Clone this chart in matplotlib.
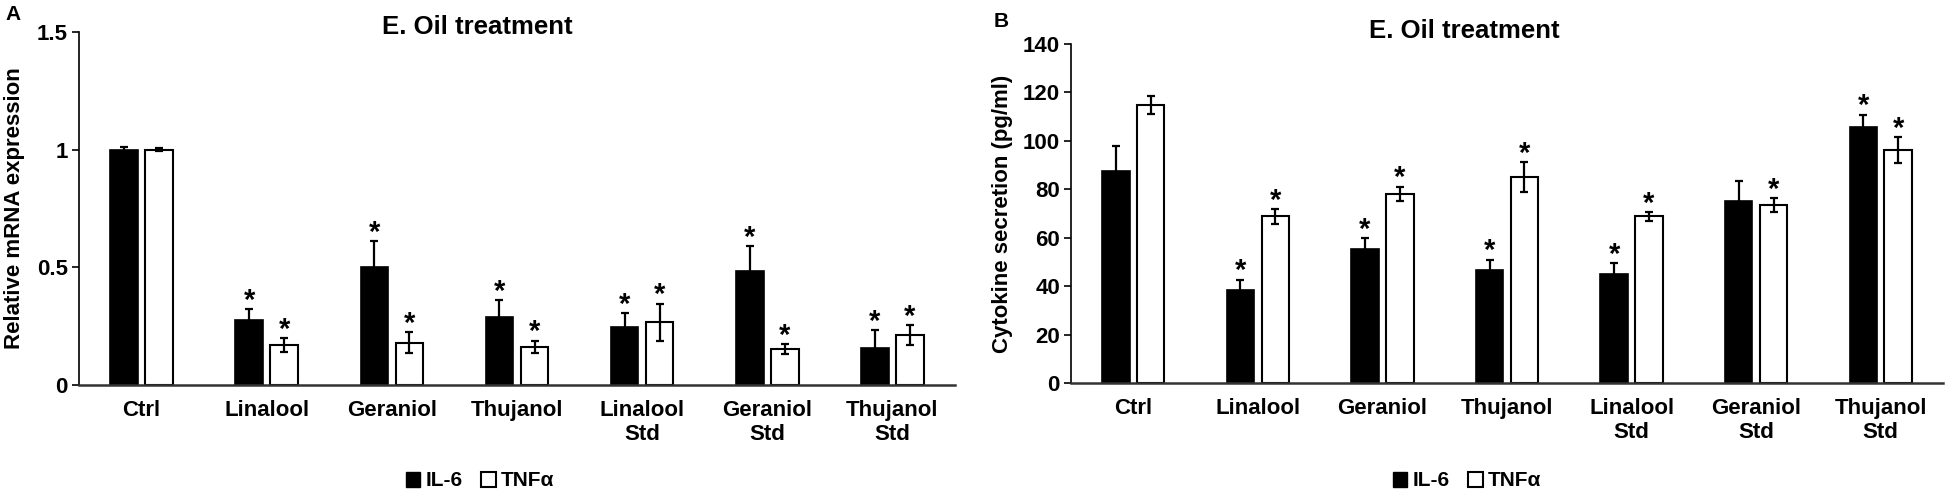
import matplotlib
matplotlib.use("Agg")
import matplotlib.pyplot as plt
from matplotlib.patches import Patch
import numpy as np

plt.rcParams['font.family'] = ['Liberation Sans', 'DejaVu Sans']
plt.rcParams['font.weight'] = 'bold'

categories = ["Ctrl", "Linalool", "Geraniol", "Thujanol", "Linalool\nStd", "Geraniol\nStd", "Thujanol\nStd"]

# Panel A: relative mRNA expression
a_il6 = [1.00, 0.278, 0.501, 0.287, 0.247, 0.483, 0.159]
a_il6_err = [0.012, 0.044, 0.110, 0.074, 0.058, 0.108, 0.074]
a_tnf = [1.00, 0.170, 0.180, 0.162, 0.266, 0.153, 0.212]
a_tnf_err = [0.006, 0.030, 0.044, 0.026, 0.080, 0.020, 0.043]
a_il6_sig = [False, True, True, True, True, True, True]
a_tnf_sig = [False, True, True, True, True, True, True]

# Panel B: cytokine secretion (pg/ml)
b_il6 = [87.7, 38.4, 55.3, 46.5, 45.1, 75.0, 105.8]
b_il6_err = [10.0, 4.3, 4.4, 4.4, 4.5, 8.3, 5.0]
b_tnf = [114.8, 68.8, 78.2, 84.9, 68.8, 73.6, 96.1]
b_tnf_err = [3.8, 3.1, 2.9, 6.2, 1.8, 2.8, 5.3]
b_il6_sig = [False, True, True, True, True, False, True]
b_tnf_sig = [False, True, True, True, True, True, True]

series_names = ["IL-6", "TNFα"]
title = "E. Oil treatment"

W, H = 1946, 492
fig = plt.figure(figsize=(W / 100, H / 100), dpi=100)

def px_axes(l, r, top, bottom):
    return fig.add_axes([l / W, 1 - bottom / H, (r - l) / W, (bottom - top) / H])

axA = px_axes(79, 955, 32, 385)
axB = px_axes(1071, 1943, 44, 383)

bw = 0.22
off = 0.14

def draw(ax, il6, il6e, tnf, tnfe, sig1, sig2, ylim, yticks, yticklabels, ylabel, star_off):
    x = np.arange(len(categories))
    ax.bar(x - off, il6, bw, color='black', edgecolor='black', linewidth=1.2, zorder=2)
    ax.bar(x + off, tnf, bw, color='white', edgecolor='black', linewidth=1.5, zorder=2)
    ax.errorbar(x - off, il6, yerr=il6e, fmt='none', ecolor='black', elinewidth=1.6,
                capsize=3.2, capthick=1.6, zorder=3)
    ax.errorbar(x + off, tnf, yerr=tnfe, fmt='none', ecolor='black', elinewidth=1.6,
                capsize=3.2, capthick=1.6, zorder=3)
    for xi, v, e, s in zip(x - off, il6, il6e, sig1):
        if s:
            ax.annotate('*', (xi, v + e), xytext=(0, star_off), textcoords='offset points',
                        ha='center', va='center', fontsize=21, fontweight='bold')
    for xi, v, e, s in zip(x + off, tnf, tnfe, sig2):
        if s:
            ax.annotate('*', (xi, v + e), xytext=(0, star_off), textcoords='offset points',
                        ha='center', va='center', fontsize=21, fontweight='bold')
    ax.set_xlim(-0.5, len(categories) - 0.5)
    ax.set_ylim(*ylim)
    ax.set_yticks(yticks)
    ax.set_yticklabels(yticklabels)
    ax.set_xticks(x)
    ax.set_xticklabels(categories, linespacing=1.15)
    ax.tick_params(axis='x', length=0, pad=11, labelsize=16)
    ax.tick_params(axis='y', length=5, width=1.2, pad=3, labelsize=16, direction='out')
    ax.spines['top'].set_visible(False)
    ax.spines['right'].set_visible(False)
    ax.spines['left'].set_linewidth(1.2)
    ax.spines['bottom'].set_linewidth(1.8)
    ax.spines['bottom'].set_color('#333333')
    ax.set_ylabel(ylabel, fontsize=16, fontweight='bold')

draw(axA, a_il6, a_il6_err, a_tnf, a_tnf_err, a_il6_sig, a_tnf_sig,
     (0, 1.5), [0, 0.5, 1, 1.5], ['0', '0.5', '1', '1.5'], 'Relative mRNA expression', 6)
draw(axB, b_il6, b_il6_err, b_tnf, b_tnf_err, b_il6_sig, b_tnf_sig,
     (0, 140), list(range(0, 141, 20)), [str(v) for v in range(0, 141, 20)],
     'Cytokine secretion (pg/ml)', 6)
axA.yaxis.set_label_coords(-54 / 876, 0.5)
axB.yaxis.set_label_coords(-58 / 872, 0.5)

fig.text(477 / W, 1 - 27.5 / H, title, ha='center', va='center', fontsize=18.5, fontweight='bold')
fig.text(1464 / W, 1 - 31 / H, title, ha='center', va='center', fontsize=18.5, fontweight='bold')
fig.text(13 / W, 1 - 14.5 / H, 'A', ha='center', va='center', fontsize=15, fontweight='bold')
fig.text(1001 / W, 1 - 21.5 / H, 'B', ha='center', va='center', fontsize=15, fontweight='bold')

handles = [Patch(facecolor='black', edgecolor='black', linewidth=1.0),
           Patch(facecolor='white', edgecolor='black', linewidth=1.5)]
for cx in (480, 1467):
    fig.legend(handles, series_names, loc='center', bbox_to_anchor=(cx / W, 1 - 481 / H),
               ncol=2, frameon=False, fontsize=15, handlelength=0.7, handleheight=0.7,
               handletextpad=0.25, columnspacing=0.9, borderpad=0, borderaxespad=0)

fig.savefig('out.png', dpi=100)
